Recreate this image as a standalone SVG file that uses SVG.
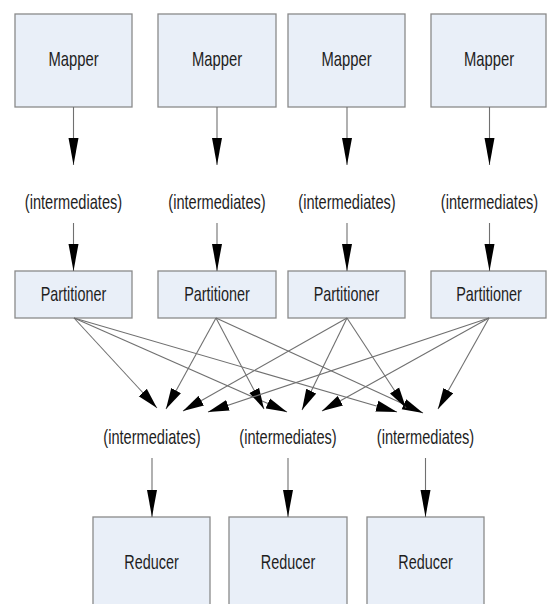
<svg xmlns="http://www.w3.org/2000/svg" width="547" height="604" viewBox="0 0 547 604">
<style>
.box{fill:#e9eff8;stroke:#8a8a8a;stroke-width:1.3}
.t{font-family:"Liberation Sans",Arial,sans-serif;font-size:20px;fill:#1e1e1e;text-anchor:middle}
.c{stroke:#707070;stroke-width:1.1;fill:none}
.v{marker-end:url(#av)}
.d{marker-end:url(#ad)}
</style>
<defs>
<marker id="av" markerUnits="userSpaceOnUse" markerWidth="28" markerHeight="11" refX="27" refY="5" orient="auto" viewBox="0 0 28 10">
<path d="M0,0 L27,5 L0,10 Z" fill="#000"/>
</marker>
<marker id="ad" markerUnits="userSpaceOnUse" markerWidth="22" markerHeight="12" refX="21" refY="5.5" orient="auto" viewBox="0 0 22 11">
<path d="M0,0 L21,5.5 L0,11 Z" fill="#000"/>
</marker>
</defs>
<rect width="547" height="604" fill="#fff"/>
<g id="mapper1"><rect class="box" x="15" y="14" width="117" height="93"/><text class="t" transform="translate(73.5,66) scale(0.74,1)">Mapper</text></g>
<g id="mapper2"><rect class="box" x="158" y="14" width="118" height="93"/><text class="t" transform="translate(217,66) scale(0.74,1)">Mapper</text></g>
<g id="mapper3"><rect class="box" x="288" y="14" width="117" height="93"/><text class="t" transform="translate(346.5,66) scale(0.74,1)">Mapper</text></g>
<g id="mapper4"><rect class="box" x="431" y="14" width="115" height="93"/><text class="t" transform="translate(489,66) scale(0.74,1)">Mapper</text></g>
<g id="inter1"><text class="t" transform="translate(73.5,209) scale(0.73,1)">(intermediates)</text></g>
<g id="inter2"><text class="t" transform="translate(217,209) scale(0.73,1)">(intermediates)</text></g>
<g id="inter3"><text class="t" transform="translate(347,209) scale(0.73,1)">(intermediates)</text></g>
<g id="inter4"><text class="t" transform="translate(489.5,209) scale(0.73,1)">(intermediates)</text></g>
<g id="part1"><rect class="box" x="15" y="271" width="117" height="47"/><text class="t" transform="translate(73.5,301) scale(0.72,1)">Partitioner</text></g>
<g id="part2"><rect class="box" x="158" y="271" width="118" height="47"/><text class="t" transform="translate(217,301) scale(0.72,1)">Partitioner</text></g>
<g id="part3"><rect class="box" x="288" y="271" width="117" height="47"/><text class="t" transform="translate(346.5,301) scale(0.72,1)">Partitioner</text></g>
<g id="part4"><rect class="box" x="431" y="271" width="115" height="47"/><text class="t" transform="translate(489,301) scale(0.72,1)">Partitioner</text></g>
<g id="rinter1"><text class="t" transform="translate(152,444) scale(0.73,1)">(intermediates)</text></g>
<g id="rinter2"><text class="t" transform="translate(288,444) scale(0.73,1)">(intermediates)</text></g>
<g id="rinter3"><text class="t" transform="translate(425.5,444) scale(0.73,1)">(intermediates)</text></g>
<g id="reducer1"><rect class="box" x="93" y="517" width="117" height="90"/><text class="t" transform="translate(151.5,569) scale(0.72,1)">Reducer</text></g>
<g id="reducer2"><rect class="box" x="229" y="517" width="118" height="90"/><text class="t" transform="translate(288,569) scale(0.72,1)">Reducer</text></g>
<g id="reducer3"><rect class="box" x="367" y="517" width="117" height="90"/><text class="t" transform="translate(425.5,569) scale(0.72,1)">Reducer</text></g>
<g id="connectors">
<line class="c v" x1="73.5" y1="107" x2="73.5" y2="165"/>
<line class="c v" x1="217" y1="107" x2="217" y2="165"/>
<line class="c v" x1="347" y1="107" x2="347" y2="165"/>
<line class="c v" x1="489.5" y1="107" x2="489.5" y2="165"/>
<line class="c v" x1="73.5" y1="223" x2="73.5" y2="271"/>
<line class="c v" x1="217" y1="223" x2="217" y2="271"/>
<line class="c v" x1="347" y1="223" x2="347" y2="271"/>
<line class="c v" x1="489.5" y1="223" x2="489.5" y2="271"/>
<line class="c v" x1="152" y1="458" x2="152" y2="517"/>
<line class="c v" x1="288" y1="458" x2="288" y2="517"/>
<line class="c v" x1="425.5" y1="458" x2="425.5" y2="517"/>
<line class="c d" x1="74" y1="318" x2="157" y2="408"/>
<line class="c d" x1="74" y1="318" x2="287" y2="412"/>
<line class="c d" x1="74" y1="318" x2="397" y2="412"/>
<line class="c d" x1="216" y1="318" x2="166" y2="409"/>
<line class="c d" x1="216" y1="318" x2="264" y2="409"/>
<line class="c d" x1="216" y1="318" x2="423" y2="413"/>
<line class="c d" x1="347" y1="318" x2="183" y2="411"/>
<line class="c d" x1="347" y1="318" x2="302" y2="410"/>
<line class="c d" x1="347" y1="318" x2="406" y2="408"/>
<line class="c d" x1="489" y1="318" x2="208" y2="412"/>
<line class="c d" x1="489" y1="318" x2="322" y2="411"/>
<line class="c d" x1="489" y1="318" x2="438" y2="409"/>
</g>
</svg>
